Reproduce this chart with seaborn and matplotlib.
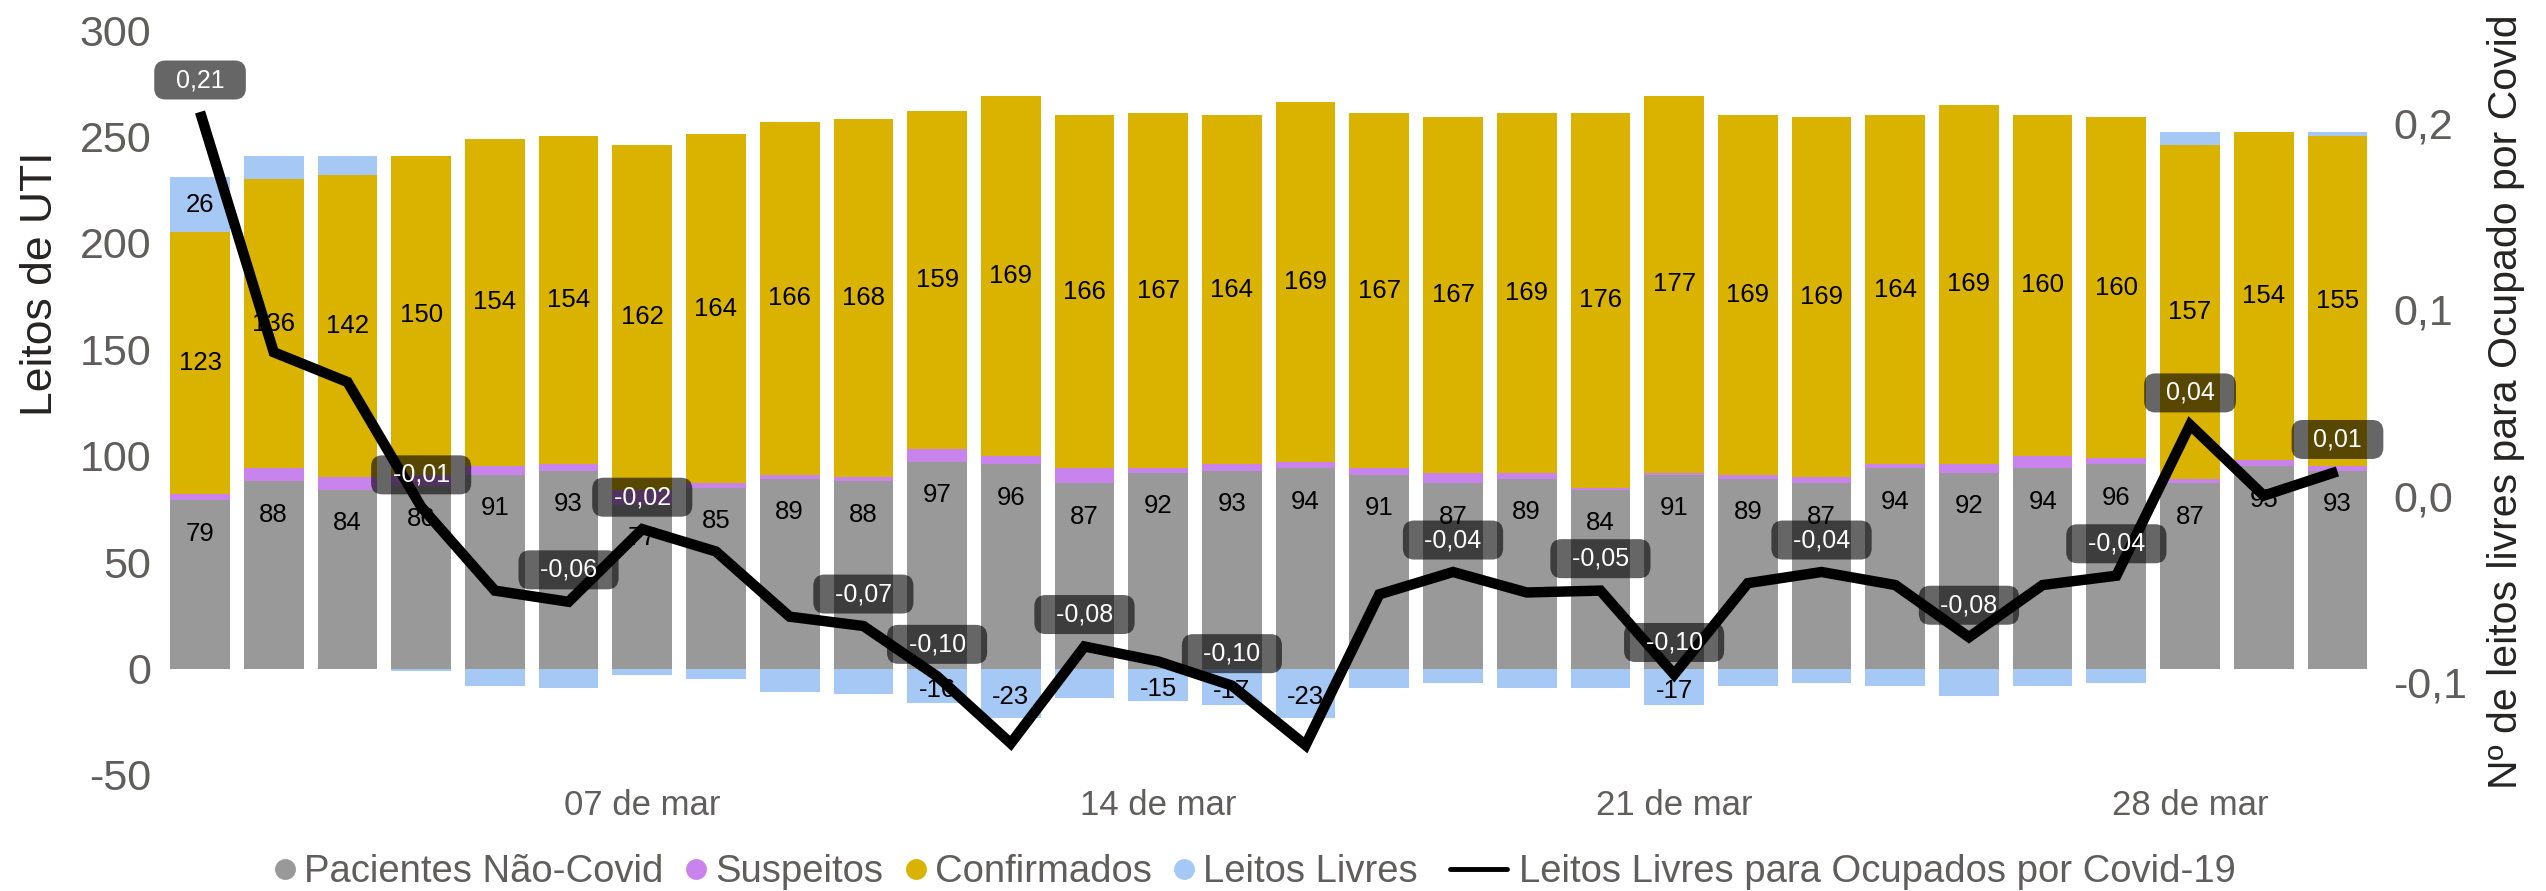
import matplotlib
matplotlib.use("Agg")
import matplotlib.pyplot as plt
import seaborn as sns
import numpy as np
import pandas as pd
from matplotlib.lines import Line2D

# Ocupação diária de leitos de UTI, 01 a 30 de março
dias = list(range(1, 31))
nao_covid = [79, 88, 84, 86, 91, 93, 77, 85, 89, 88, 97, 96, 87, 92, 93,
             94, 91, 87, 89, 84, 91, 89, 87, 94, 92, 94, 96, 87, 95, 93]
suspeitos = [3, 6, 6, 5, 4, 3, 7, 2, 2, 2, 6, 4, 7, 2, 3,
             3, 3, 5, 3, 1, 1, 2, 3, 2, 4, 6, 3, 2, 3, 2]
confirmados = [123, 136, 142, 150, 154, 154, 162, 164, 166, 168, 159, 169, 166, 167, 164,
               169, 167, 167, 169, 176, 177, 169, 169, 164, 169, 160, 160, 157, 154, 155]
livres = [26, 11, 9, -1, -8, -9, -3, -5, -11, -12, -16, -23, -14, -15, -17,
          -23, -9, -7, -9, -9, -17, -8, -7, -8, -13, -8, -7, 6, 0, 2]
razao_livres_covid = [0.206, 0.077, 0.061, -0.006, -0.051, -0.057, -0.018, -0.030, -0.065, -0.070,
                      -0.097, -0.133, -0.081, -0.089, -0.102, -0.134, -0.053, -0.041, -0.052, -0.051,
                      -0.096, -0.047, -0.041, -0.048, -0.076, -0.048, -0.043, 0.038, 0.000, 0.013]
pontos_rotulados = [0, 3, 5, 6, 9, 10, 12, 14, 17, 19, 20, 22, 24, 26, 27, 29]

dias_marcados = [7, 14, 21, 28]
rotulos_x = ["07 de mar", "14 de mar", "21 de mar", "28 de mar"]
ticks_esq = [-50, 0, 50, 100, 150, 200, 250, 300]
rotulos_esq = ["-50", "0", "50", "100", "150", "200", "250", "300"]
ticks_dir = [-0.1, 0.0, 0.1, 0.2]
rotulos_dir = ["-0,1", "0,0", "0,1", "0,2"]

series = ["Pacientes Não-Covid", "Suspeitos", "Confirmados", "Leitos Livres"]
linha_nome = "Leitos Livres para Ocupados por Covid-19"

COR_CINZA = "#999999"
COR_ROXO = "#C884EC"
COR_AMARELO = "#D9B300"
COR_AZUL = "#A6C8F4"
COR_TEXTO = "#605E5C"

sns.set_theme(style="white")
plt.rcParams["font.family"] = ["Liberation Sans", "DejaVu Sans"]
plt.rcParams["axes.unicode_minus"] = False

W, H = 2546, 891
fig = plt.figure(figsize=(W / 100, H / 100), dpi=100)
ax = fig.add_axes([159.5 / W, 116 / H, 2218.5 / W, 745 / H])

df = pd.DataFrame({
    "dia": dias,
    "nao_covid": nao_covid,
    "suspeitos": suspeitos,
    "confirmados": confirmados,
    "livres": livres,
    "razao": razao_livres_covid,
})
df["pos"] = np.arange(len(df))
df["base_susp"] = df["nao_covid"]
df["base_conf"] = df["nao_covid"] + df["suspeitos"]
df["topo_conf"] = df["base_conf"] + df["confirmados"]
df["base_livres"] = np.where(df["livres"] >= 0, df["topo_conf"], 0)

largura = 0.81
comum = dict(ax=ax, width=largura, saturation=1, errorbar=None, linewidth=0)
sns.barplot(data=df, x="pos", y="nao_covid", color=COR_CINZA, **comum)
sns.barplot(data=df, x="pos", y="suspeitos", color=COR_ROXO, bottom=df["base_susp"].values, **comum)
sns.barplot(data=df, x="pos", y="confirmados", color=COR_AMARELO, bottom=df["base_conf"].values, **comum)
sns.barplot(data=df, x="pos", y="livres", color=COR_AZUL, bottom=df["base_livres"].values, **comum)

# rótulos dentro das barras
for _, r in df.iterrows():
    i = r["pos"]
    ax.annotate(f"{int(r['nao_covid'])}", (i, r["nao_covid"]), xytext=(0, -24),
                textcoords="offset points", ha="center", va="center", fontsize=18.5, color="black")
    ax.annotate(f"{int(r['confirmados'])}", (i, r["base_conf"] + r["confirmados"] / 2),
                ha="center", va="center", fontsize=18.5, color="black")
    if abs(r["livres"]) >= 15:
        dy = -3 if r["livres"] < 0 else 0
        ax.annotate(f"{int(r['livres'])}", (i, r["base_livres"] + r["livres"] / 2), xytext=(0, dy),
                    textcoords="offset points", ha="center", va="center", fontsize=18.5, color="black")

ax.set_ylim(-50, 300)
ax.set_xlim(-0.55, len(df) - 0.45)
ax.set_yticks(ticks_esq)
ax.set_yticklabels(rotulos_esq)
ax.set_xticks([df.index[df["dia"] == d][0] for d in dias_marcados])
ax.set_xticklabels(rotulos_x)
ax.set_xlabel("")
ax.set_ylabel("")
ax.tick_params(axis="y", labelsize=31, colors=COR_TEXTO, length=0, pad=6)
ax.tick_params(axis="x", labelsize=25, colors=COR_TEXTO, length=0, pad=10)
for s in ax.spines.values():
    s.set_visible(False)
ax.grid(False)

# linha no eixo secundário
ax2 = ax.twinx()
sns.lineplot(data=df, x="pos", y="razao", ax=ax2, color="black", linewidth=7.5,
             solid_joinstyle="miter", solid_capstyle="butt")
ax2.set_ylim(-0.15, 0.25)
ax2.set_xlim(ax.get_xlim())
ax2.set_yticks(ticks_dir)
ax2.set_yticklabels(rotulos_dir)
ax2.set_ylabel("")
ax2.tick_params(axis="y", labelsize=31, colors=COR_TEXTO, length=0, pad=11)
for s in ax2.spines.values():
    s.set_visible(False)
ax2.grid(False)

for i in pontos_rotulados:
    v = df.loc[i, "razao"]
    txt = f"{v:.2f}".replace(".", ",")
    ax2.annotate(f"  {txt}  ", (i, v), xytext=(0, 23), textcoords="offset points",
                 ha="center", va="center", fontsize=18, color="white", zorder=5,
                 bbox=dict(boxstyle="round,pad=0.3,rounding_size=0.45", fc="black",
                           alpha=0.6, ec="none"))

# títulos dos eixos
fig.text(41 / W, 1 - 284 / H, "Leitos de UTI", rotation=90, ha="center", va="center",
         fontsize=32, color="#252423")
fig.text(2506 / W, 1 - 402 / H, "Nº de leitos livres para Ocupado por Covid", rotation=90,
         ha="center", va="center", fontsize=29.5, color="#252423")

# legenda
cores = [COR_CINZA, COR_ROXO, COR_AMARELO, COR_AZUL]
alcas = [Line2D([], [], marker="o", linestyle="None", markerfacecolor=c, markeredgecolor=c,
                markersize=14) for c in cores]
leg1 = fig.legend(alcas, series, loc="center left", bbox_to_anchor=(272 / W, 1 - 872 / H),
                  ncol=4, frameon=False, fontsize=27.5, handlelength=0.7, handletextpad=0.15,
                  columnspacing=0.5, borderpad=0, borderaxespad=0, labelcolor=COR_TEXTO)
alca_linha = Line2D([], [], color="black", linewidth=3.5)
leg2 = fig.legend([alca_linha], [linha_nome], loc="center left",
                  bbox_to_anchor=(1450 / W, 1 - 872 / H), frameon=False, fontsize=27.5,
                  handlelength=1.5, handletextpad=0.3, borderpad=0, borderaxespad=0,
                  labelcolor=COR_TEXTO)

fig.savefig("out.png", dpi=100)
